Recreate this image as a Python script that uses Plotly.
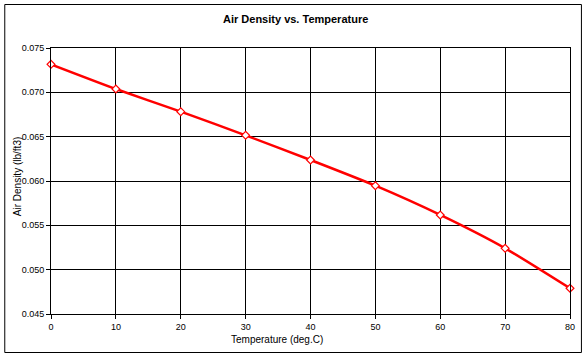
import plotly.graph_objects as go

temperature_c = [0, 10, 20, 30, 40, 50, 60, 70, 80]
air_density = [0.07316, 0.07038, 0.06782, 0.06515, 0.06237, 0.05947, 0.05617, 0.05241, 0.04790]

x_ticks = [0, 10, 20, 30, 40, 50, 60, 70, 80]
y_ticks = [0.045, 0.050, 0.055, 0.060, 0.065, 0.070, 0.075]

W, H = 587, 356
ml, mr, mt, mb = 51, 14, 48, 42
pw = W - ml - mr
ph = H - mt - mb

def px_to_paper_x(px):
    return (px - ml) / pw

def px_to_paper_y(py):
    return (H - mb - py) / ph

font = "Liberation Sans, Arial, sans-serif"

fig = go.Figure()
fig.add_trace(go.Scatter(
    x=temperature_c, y=air_density,
    mode="lines+markers",
    line=dict(color="#ff0000", width=2.5, shape="spline", smoothing=0.6),
    marker=dict(symbol="diamond", size=6, color="white", line=dict(width=1.2, color="#ff0000")),
    showlegend=False,
    cliponaxis=False,
))

fig.update_layout(
    width=W, height=H,
    margin=dict(l=ml, r=mr, t=mt, b=mb),
    paper_bgcolor="white", plot_bgcolor="white",
    font=dict(family=font, size=9, color="black"),
    xaxis=dict(
        range=[0, 80], tickvals=x_ticks, ticktext=[str(v) for v in x_ticks],
        showgrid=True, gridcolor="black", gridwidth=1,
        showline=True, linecolor="black", linewidth=1, mirror=True,
        ticks="outside", ticklen=4, tickcolor="black",
        zeroline=False, tickfont=dict(size=9),
    ),
    yaxis=dict(
        range=[0.045, 0.075], tickvals=y_ticks, tickformat=".3f",
        showgrid=True, gridcolor="black", gridwidth=1,
        showline=True, linecolor="black", linewidth=1, mirror=True,
        ticks="outside", ticklen=4, tickcolor="black",
        zeroline=False, tickfont=dict(size=9),
    ),
    shapes=[dict(
        type="rect", xref="paper", yref="paper",
        x0=px_to_paper_x(4.5), x1=px_to_paper_x(584.5),
        y0=px_to_paper_y(352.5), y1=px_to_paper_y(4.5),
        line=dict(color="black", width=1), fillcolor="rgba(0,0,0,0)", layer="below",
    )],
    annotations=[
        dict(text="<b>Air Density vs. Temperature</b>", xref="paper", yref="paper",
             x=px_to_paper_x(297), y=px_to_paper_y(19), showarrow=False,
             xanchor="center", yanchor="middle", font=dict(size=11)),
        dict(text="Temperature (deg.C)", xref="paper", yref="paper",
             x=px_to_paper_x(278), y=px_to_paper_y(339), showarrow=False,
             xanchor="center", yanchor="middle", font=dict(size=10)),
        dict(text="Air Density (lb/ft3)", xref="paper", yref="paper",
             x=px_to_paper_x(17), y=px_to_paper_y(177), showarrow=False, textangle=-90,
             xanchor="center", yanchor="middle", font=dict(size=10)),
    ],
)

fig.write_html(
    "out.html",
    config={"displayModeBar": False},
    post_script="document.body.style.margin='0';document.body.style.overflow='hidden';",
)
